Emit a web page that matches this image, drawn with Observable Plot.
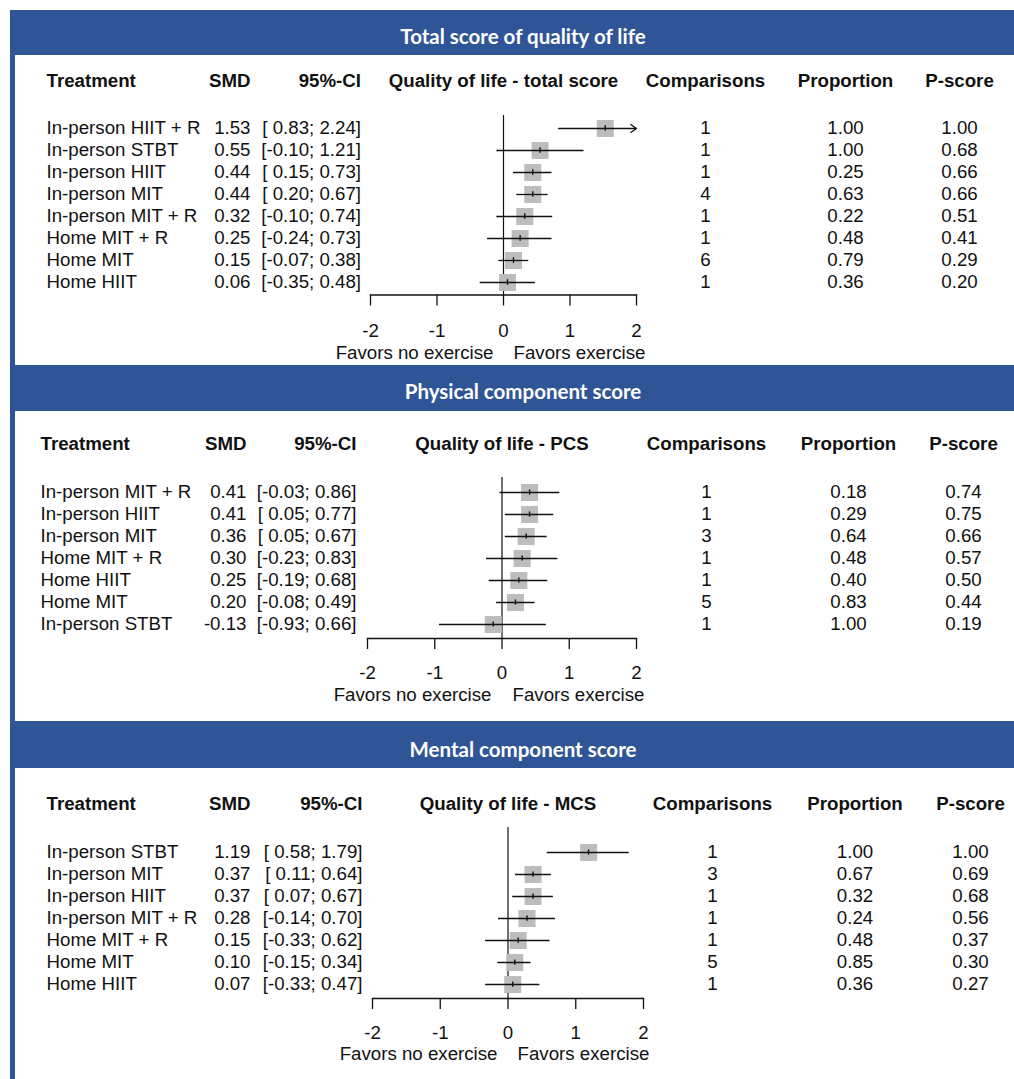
<!DOCTYPE html>
<html>
<head>
<meta charset="utf-8">
<script src="https://cdn.jsdelivr.net/npm/d3@7"></script>
<script src="https://cdn.jsdelivr.net/npm/@observablehq/plot@0.6"></script>
<style>
  html, body { margin: 0; padding: 0; background: #fff; }
  body { width: 1014px; height: 1079px; position: relative; overflow: hidden; font-family: "Liberation Sans", Arial, sans-serif; }
  #frame { position: absolute; left: 10px; top: 10px; width: 1004px; height: 1069px; background: #2f5597; }
  .panel { position: absolute; left: 15px; width: 999px; background: #fff; }
  .panel svg { display: block; overflow: visible; }
  .title { position: absolute; color: #fff; font-family: Lato, "Open Sans", sans-serif; font-weight: 700; font-size: 20.5px; line-height: 1; white-space: nowrap; transform: translate(-50%, -50%); }
</style>
</head>
<body>
<div id="frame"></div>
<script>
// ---------------- data ----------------
const panelTitles = ["Total score of quality of life", "Physical component score", "Mental component score"];
const plotTitles = ["Quality of life - total score", "Quality of life - PCS", "Quality of life - MCS"];
const columnLabels = ["Treatment", "SMD", "95%-CI", "Comparisons", "Proportion", "P-score"];
const directionLabels = ["Favors no exercise", "Favors exercise"];
const xTicks = [-2, -1, 0, 1, 2];

const treatments1 = ["In-person HIIT + R", "In-person STBT", "In-person HIIT", "In-person MIT", "In-person MIT + R", "Home MIT + R", "Home MIT", "Home HIIT"];
const smd1 = [1.53, 0.55, 0.44, 0.44, 0.32, 0.25, 0.15, 0.06];
const lower1 = [0.83, -0.10, 0.15, 0.20, -0.10, -0.24, -0.07, -0.35];
const upper1 = [2.24, 1.21, 0.73, 0.67, 0.74, 0.73, 0.38, 0.48];
const comparisons1 = [1, 1, 1, 4, 1, 1, 6, 1];
const proportion1 = [1.00, 1.00, 0.25, 0.63, 0.22, 0.48, 0.79, 0.36];
const pscore1 = [1.00, 0.68, 0.66, 0.66, 0.51, 0.41, 0.29, 0.20];

const treatments2 = ["In-person MIT + R", "In-person HIIT", "In-person MIT", "Home MIT + R", "Home HIIT", "Home MIT", "In-person STBT"];
const smd2 = [0.41, 0.41, 0.36, 0.30, 0.25, 0.20, -0.13];
const lower2 = [-0.03, 0.05, 0.05, -0.23, -0.19, -0.08, -0.93];
const upper2 = [0.86, 0.77, 0.67, 0.83, 0.68, 0.49, 0.66];
const comparisons2 = [1, 1, 3, 1, 1, 5, 1];
const proportion2 = [0.18, 0.29, 0.64, 0.48, 0.40, 0.83, 1.00];
const pscore2 = [0.74, 0.75, 0.66, 0.57, 0.50, 0.44, 0.19];

const treatments3 = ["In-person STBT", "In-person MIT", "In-person HIIT", "In-person MIT + R", "Home MIT + R", "Home MIT", "Home HIIT"];
const smd3 = [1.19, 0.37, 0.37, 0.28, 0.15, 0.10, 0.07];
const lower3 = [0.58, 0.11, 0.07, -0.14, -0.33, -0.15, -0.33];
const upper3 = [1.79, 0.64, 0.67, 0.70, 0.62, 0.34, 0.47];
const comparisons3 = [1, 3, 1, 1, 1, 5, 1];
const proportion3 = [1.00, 0.67, 0.32, 0.24, 0.48, 0.85, 0.36];
const pscore3 = [1.00, 0.69, 0.68, 0.56, 0.37, 0.30, 0.27];

// ---------------- layout (pixel geometry, absolute page coords) ----------------
const panels = [
  {title: panelTitles[0], plotTitle: plotTitles[0], treatments: treatments1, smd: smd1, lower: lower1, upper: upper1, comparisons: comparisons1, proportion: proportion1, pscore: pscore1,
   g: {top: 55, bottom: 365, titleY: 35.5, headerY: 81, row1: 126.3, rowN: 283.7, zeroTop: 115, axisY: 294.5, xMin: 370, xMax: 636,
       label: 46, smd: 250, ci: 360.5, comp: 705, prop: 845, psc: 959, tickLabelY: 330, favorsY: 352.5, gapL: 10, gapR: 10}},
  {title: panelTitles[1], plotTitle: plotTitles[1], treatments: treatments2, smd: smd2, lower: lower2, upper: upper2, comparisons: comparisons2, proportion: proportion2, pscore: pscore2,
   g: {top: 411, bottom: 721, titleY: 390.5, headerY: 444, row1: 490, rowN: 627, zeroTop: 477, axisY: 638, xMin: 367, xMax: 636,
       label: 40, smd: 246, ci: 356, comp: 706, prop: 848, psc: 963, tickLabelY: 672, favorsY: 695, gapL: 10.5, gapR: 10.5}},
  {title: panelTitles[2], plotTitle: plotTitles[2], treatments: treatments3, smd: smd3, lower: lower3, upper: upper3, comparisons: comparisons3, proportion: proportion3, pscore: pscore3,
   g: {top: 768, bottom: 1079, titleY: 748.5, headerY: 804, row1: 849.5, rowN: 986, zeroTop: 827, axisY: 998, xMin: 372, xMax: 643,
       label: 46, smd: 250, ci: 362, comp: 712, prop: 854.5, psc: 970, tickLabelY: 1032, favorsY: 1054, gapL: 10.5, gapR: 9.5}}
];

const LEFT = 15, W = 999, FS = 18.7;
const ink = "#111";
const xLo = d3.min(xTicks), xHi = d3.max(xTicks);
const f2 = v => v.toFixed(2);

for (const p of panels) {
  const g = p.g;
  const H = g.bottom - g.top;
  const n = p.treatments.length;
  const step = (g.rowN - g.row1) / (n - 1);
  const padLo = p.lower.some(v => v < 0), padHi = p.upper.some(v => v < 0);
  const fmtLo = v => (padLo && v >= 0 ? " " : "") + f2(v);
  const fmtHi = v => (padHi && v >= 0 ? " " : "") + f2(v);

  const rows = p.treatments.map((name, i) => ({
    name, smd: p.smd[i], lo: p.lower[i], hi: p.upper[i],
    loC: Math.max(p.lower[i], xLo), hiC: Math.min(p.upper[i], xHi),
    cut: p.upper[i] > xHi,
    comp: p.comparisons[i], prop: p.proportion[i], psc: p.pscore[i]
  }));

  // title band
  const t = document.createElement("div");
  t.className = "title";
  t.style.left = "523px";
  t.style.top = g.titleY + "px";
  t.textContent = p.title;
  document.body.appendChild(t);

  const T = (data, opts) => Plot.text(data, {lineAnchor: "middle", fill: ink, fontSize: FS, ...opts});
  const hdrDy = g.headerY - g.zeroTop;

  const chart = Plot.plot({
    width: W, height: H,
    marginLeft: g.xMin - LEFT, marginRight: LEFT + W - g.xMax,
    marginTop: g.zeroTop - g.top, marginBottom: g.bottom - g.axisY,
    style: {fontFamily: '"Liberation Sans", Arial, sans-serif', fontSize: FS + "px", color: ink, background: "transparent", overflow: "visible"},
    x: {domain: [xLo, xHi]},
    y: {type: "band", domain: p.treatments, range: [g.row1 - step / 2 - g.top, g.rowN + step / 2 - g.top], padding: 0, axis: null},
    marks: [
      Plot.ruleX([0], {stroke: ink, strokeWidth: 1.2}),
      Plot.dot(rows, {x: "smd", y: "name", symbol: "square", r: 9.6, fill: "#bdbdbd", stroke: null}),
      Plot.ruleY(rows.filter(d => !d.cut), {y: "name", x1: "loC", x2: "hiC", stroke: ink, strokeWidth: 1.3}),
      Plot.arrow(rows.filter(d => d.cut), {x1: "loC", x2: "hiC", y1: "name", y2: "name", stroke: ink, strokeWidth: 1.3, headLength: 8, headAngle: 70}),
      Plot.tickX(rows, {x: "smd", y: "name", stroke: ink, strokeWidth: 1.4, insetTop: (step - 6) / 2, insetBottom: (step - 6) / 2}),
      Plot.frame({anchor: "bottom", stroke: ink, strokeWidth: 1.3}),
      Plot.axisX(xTicks, {anchor: "bottom", tickSize: 11, tickPadding: g.tickLabelY - g.axisY - 6.6 - 11, tickFormat: d => String(d), label: null, stroke: ink, strokeWidth: 1.3, fill: ink, fontSize: FS}),
      // direction labels
      T([directionLabels[0]], {text: d => d, frameAnchor: "bottom", dx: -g.gapL, dy: g.favorsY - g.axisY, textAnchor: "end"}),
      T([directionLabels[1]], {text: d => d, frameAnchor: "bottom", dx: g.gapR, dy: g.favorsY - g.axisY, textAnchor: "start"}),
      // column headers
      T([columnLabels[0]], {text: d => d, frameAnchor: "top-left", dx: g.label - g.xMin, dy: hdrDy, textAnchor: "start", fontWeight: "bold"}),
      T([columnLabels[1]], {text: d => d, frameAnchor: "top-left", dx: g.smd - g.xMin, dy: hdrDy, textAnchor: "end", fontWeight: "bold"}),
      T([columnLabels[2]], {text: d => d, frameAnchor: "top-left", dx: g.ci - g.xMin, dy: hdrDy, textAnchor: "end", fontWeight: "bold"}),
      T([p.plotTitle], {text: d => d, frameAnchor: "top", dy: hdrDy, textAnchor: "middle", fontWeight: "bold"}),
      T([columnLabels[3]], {text: d => d, frameAnchor: "top-right", dx: g.comp - g.xMax, dy: hdrDy, textAnchor: "middle", fontWeight: "bold"}),
      T([columnLabels[4]], {text: d => d, frameAnchor: "top-right", dx: g.prop - g.xMax, dy: hdrDy, textAnchor: "middle", fontWeight: "bold"}),
      T([columnLabels[5]], {text: d => d, frameAnchor: "top-right", dx: g.psc - g.xMax, dy: hdrDy, textAnchor: "middle", fontWeight: "bold"}),
      // table columns
      T(rows, {y: "name", text: "name", frameAnchor: "left", dx: g.label - g.xMin, textAnchor: "start"}),
      T(rows, {y: "name", text: d => f2(d.smd), frameAnchor: "left", dx: g.smd - g.xMin, textAnchor: "end"}),
      T(rows, {y: "name", text: d => `[${fmtLo(d.lo)}; ${fmtHi(d.hi)}]`, frameAnchor: "left", dx: g.ci - g.xMin, textAnchor: "end"}),
      T(rows, {y: "name", text: d => String(d.comp), frameAnchor: "right", dx: g.comp - g.xMax, textAnchor: "middle"}),
      T(rows, {y: "name", text: d => f2(d.prop), frameAnchor: "right", dx: g.prop - g.xMax, textAnchor: "middle"}),
      T(rows, {y: "name", text: d => f2(d.psc), frameAnchor: "right", dx: g.psc - g.xMax, textAnchor: "middle"})
    ]
  });

  const div = document.createElement("div");
  div.className = "panel";
  div.style.top = g.top + "px";
  div.style.height = H + "px";
  div.appendChild(chart);
  document.body.appendChild(div);
}
</script>
</body>
</html>
